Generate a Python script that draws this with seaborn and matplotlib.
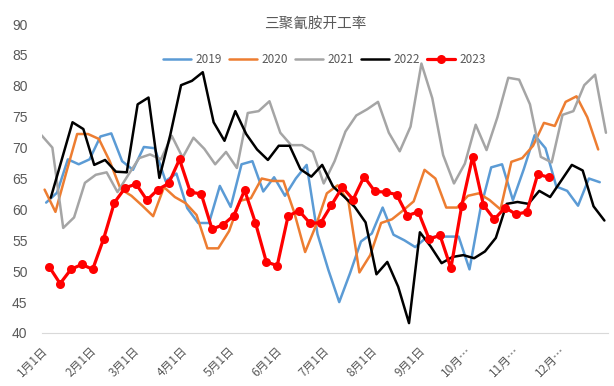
import matplotlib
matplotlib.use("Agg")
from matplotlib import pyplot as plt
import pandas as pd
import seaborn as sns

years = ["2019", "2020", "2021", "2022", "2023"]
# weekly data, first Friday of each year
start_dates = ["2019-01-04", "2020-01-03", "2021-01-01", "2022-01-07", "2023-01-06"]
colors = ["#5B9BD5", "#ED7D31", "#A5A5A5", "#000000", "#FF0000"]

rate_2019 = [61.1, 62.7, 68.1, 67.3, 68.1, 71.8, 72.3, 67.8, 66.4, 70.1,
             69.9, 64.6, 65.8, 60.2, 57.8, 57.8, 63.8, 60.4, 67.3, 67.8,
             62.9, 65.2, 62.2, 65.0, 67.2, 56.0, 50.2, 45.0, 49.7, 54.8,
             56.1, 60.3, 55.9, 55.0, 53.9, 55.4, 55.6, 55.6, 55.6, 50.3,
             60.0, 66.8, 67.3, 61.5, 66.5, 72.0, 69.9, 63.7, 63.0, 60.6,
             65.0, 64.4]
rate_2020 = [63.2, 59.6, 66.0, 72.2, 72.2, 71.4, 67.8, 63.3, 62.2, 60.6,
             58.9, 63.6, 62.0, 61.0, 59.1, 53.7, 53.7, 56.5, 61.4, 61.8,
             65.0, 64.6, 64.6, 59.5, 53.1, 57.4, 62.6, 63.9, 61.2, 49.8,
             52.6, 57.8, 58.4, 59.8, 61.3, 66.4, 65.0, 60.3, 60.3, 62.2,
             62.6, 61.5, 60.0, 67.7, 68.3, 70.3, 74.0, 73.5, 77.4, 78.3,
             74.9, 69.7]
rate_2021 = [72.0, 70.0, 57.0, 58.7, 64.3, 65.6, 66.0, 62.8, 65.6, 68.3,
             68.9, 68.1, 71.9, 68.4, 71.6, 69.8, 67.3, 69.3, 66.7, 75.6,
             75.9, 77.5, 72.4, 70.4, 70.4, 69.3, 64.2, 67.8, 72.6, 75.2,
             76.2, 77.4, 72.4, 69.4, 73.4, 83.6, 78.0, 68.8, 64.2, 67.4,
             73.7, 69.6, 74.9, 81.3, 81.0, 77.0, 68.5, 67.6, 75.3, 75.9,
             80.1, 81.8, 72.4]
rate_2022 = [61.9, 68.0, 74.1, 73.0, 67.2, 68.0, 66.1, 66.0, 77.0, 78.1,
             65.1, 72.0, 80.1, 80.8, 82.2, 74.1, 71.1, 75.9, 72.2, 69.7,
             68.0, 70.3, 70.3, 66.5, 65.3, 67.2, 63.7, 62.1, 60.4, 57.9,
             49.5, 51.5, 47.5, 41.6, 56.3, 54.0, 51.3, 52.3, 52.6, 52.1,
             53.2, 55.4, 60.9, 61.2, 60.9, 63.0, 62.0, 64.6, 67.2, 66.3,
             60.5, 58.2]
rate_2023 = [50.7, 48.0, 50.3, 51.1, 50.3, 55.2, 61.1, 63.5, 64.1, 61.5,
             63.2, 64.2, 68.1, 62.8, 62.5, 56.8, 57.5, 59.0, 63.1, 57.8,
             51.5, 50.9, 58.9, 59.8, 57.8, 57.8, 60.7, 63.6, 61.6, 65.3,
             62.9, 62.8, 62.4, 59.0, 59.6, 55.2, 55.8, 50.5, 60.6, 68.5,
             60.7, 58.4, 60.3, 59.2, 59.6, 65.7, 65.2]
series = [rate_2019, rate_2020, rate_2021, rate_2022, rate_2023]

month_labels = ["1月1日", "2月1日", "3月1日", "4月1日", "5月1日", "6月1日",
                "7月1日", "8月1日", "9月1日", "10月…", "11月…", "12月…"]

frames = []
for year, start, vals in zip(years, start_dates, series):
    dates = pd.date_range(start, periods=len(vals), freq="7D")
    frames.append(pd.DataFrame({"day": dates.dayofyear - 1, "rate": vals, "year": year}))
df = pd.concat(frames, ignore_index=True)

sns.set_style("white")
plt.rcParams["font.family"] = ["Noto Sans CJK SC", "DejaVu Sans"]

fig = plt.figure(figsize=(6.14, 3.86), dpi=100)
ax = fig.add_axes([41.5 / 614, 1 - 333 / 386, 566 / 614, 309 / 386])

for year, color in zip(years, colors):
    d = df[df["year"] == year]
    if year == "2023":
        sns.lineplot(data=d, x="day", y="rate", color=color, linewidth=2.3,
                     marker="o", markersize=6.5, markeredgewidth=0, label=year, ax=ax)
    else:
        sns.lineplot(data=d, x="day", y="rate", color=color, linewidth=1.8,
                     label=year, ax=ax)

ticks = pd.date_range("2023-01-01", periods=12, freq="MS").dayofyear - 1
ax.set_xlim(0, 365)
ax.set_ylim(40, 90)
ax.set_yticks(range(40, 91, 5))
ax.set_xticks(ticks)
ax.set_xticklabels(month_labels, rotation=45, ha="right", rotation_mode="anchor",
                   fontsize=8.5, color="#595959")
ax.tick_params(axis="y", length=0, pad=10, labelsize=10, labelcolor="#595959")
ax.tick_params(axis="x", length=4, width=0.8, color="#D9D9D9", pad=4)
for lbl in ax.get_yticklabels():
    lbl.set_family(["Liberation Sans", "DejaVu Sans"])
ax.set_xlabel("")
ax.set_ylabel("")
for side in ["left", "right", "top"]:
    ax.spines[side].set_visible(False)
ax.spines["bottom"].set_color("#D9D9D9")
ax.spines["bottom"].set_linewidth(0.8)

ax.legend(loc="center", bbox_to_anchor=(0.5, 0.885), ncol=5, frameon=False,
          fontsize=8.5, handlelength=2.4, columnspacing=0.6, handletextpad=0.35,
          labelcolor="#595959")

fig.text(315 / 614, 1 - 24 / 386, "三聚氰胺开工率", ha="center", va="center",
         fontsize=10.5, color="#595959")

fig.savefig("out.png", dpi=100)
